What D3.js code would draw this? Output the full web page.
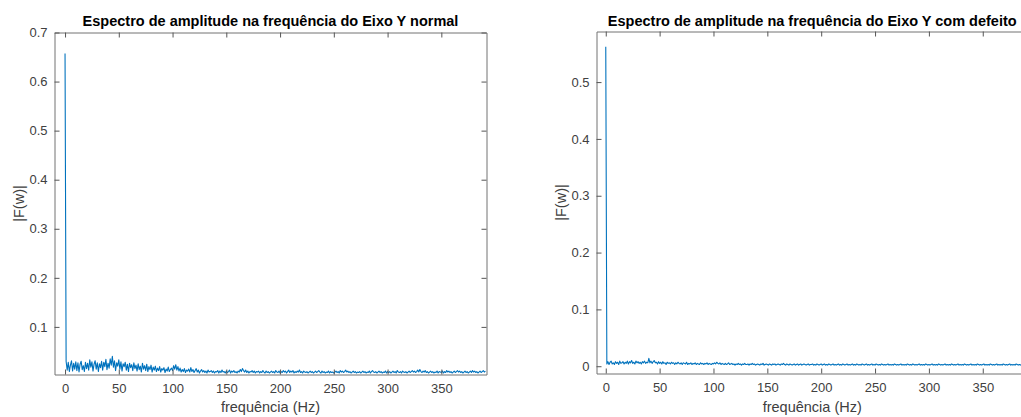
<!DOCTYPE html>
<html>
<head>
<meta charset="utf-8">
<script src="https://cdn.jsdelivr.net/npm/d3@7"></script>
<style>
  body { margin: 0; background: white; }
  svg { display: block; font-family: "Liberation Sans", Arial, sans-serif; }
</style>
</head>
<body>
<div id="container"></div>
<script>
const freqs = d3.range(0, 392);

const xTicks = [0, 50, 100, 150, 200, 250, 300, 350];
const yTicksNormal = [0.1, 0.2, 0.3, 0.4, 0.5, 0.6, 0.7];
const yTicksDefect = [0, 0.1, 0.2, 0.3, 0.4, 0.5];

//Eixo Y normal
const ampNormal = [.657,
  .030,.012,.028,.009,.022,.031,.010,.026,.014,.029,
  .011,.027,.008,.024,.030,.013,.021,.009,.028,.015,
  .026,.012,.033,.018,.029,.010,.024,.031,.014,.027,
  .009,.025,.017,.030,.012,.028,.019,.034,.013,.026,
  .016,.035,.022,.040,.018,.031,.011,.027,.020,.033,
  .014,.029,.010,.025,.019,.028,.012,.024,.009,.026,
  .017,.023,.011,.027,.015,.022,.010,.025,.013,.020,
  .008,.026,.014,.021,.011,.024,.009,.019,.013,.022,
  .008,.018,.012,.020,.009,.016,.011,.019,.008,.015,
  .012,.017,.007,.014,.010,.018,.009,.013,.016,.011,
  .021,.014,.023,.012,.019,.010,.016,.008,.013,.009,
  .015,.007,.012,.010,.014,.008,.017,.009,.013,.007,
  .011,.015,.008,.012,.006,.010,.013,.008,.011,.007,
  .010,.006,.012,.008,.009,.011,.007,.010,.006,.009,
  .008,.011,.006,.010,.007,.012,.008,.009,.006,.010,
  .007,.009,.012,.006,.010,.008,.011,.007,.009,.006,
  .010,.008,.013,.009,.015,.011,.008,.012,.007,.010,
  .006,.009,.008,.011,.007,.010,.006,.009,.008,.010,
  .006,.009,.007,.011,.008,.006,.010,.007,.009,.006,
  .008,.010,.007,.009,.006,.011,.008,.007,.010,.006,
  .009,.007,.011,.008,.010,.006,.009,.012,.007,.010,
  .008,.011,.006,.009,.007,.010,.008,.012,.007,.009,
  .006,.010,.008,.007,.009,.006,.008,.010,.007,.009,
  .006,.008,.010,.007,.009,.011,.008,.006,.010,.007,
  .009,.006,.008,.007,.010,.006,.009,.007,.008,.006,
  .008,.010,.007,.009,.006,.011,.008,.010,.007,.009,
  .012,.008,.010,.007,.009,.006,.008,.010,.007,.009,
  .006,.008,.007,.009,.006,.008,.010,.007,.009,.006,
  .008,.007,.010,.006,.009,.011,.008,.007,.009,.006,
  .008,.010,.007,.009,.006,.008,.007,.010,.006,.009,
  .007,.009,.006,.008,.010,.007,.009,.006,.011,.008,
  .007,.009,.006,.010,.008,.007,.009,.006,.008,.010,
  .007,.009,.011,.008,.010,.007,.009,.012,.008,.013,
  .009,.007,.010,.008,.011,.007,.009,.006,.008,.010,
  .007,.009,.006,.008,.007,.010,.006,.009,.008,.007,
  .010,.006,.009,.007,.011,.008,.010,.007,.009,.006,
  .008,.010,.007,.009,.011,.008,.010,.007,.009,.006,
  .008,.010,.007,.009,.006,.008,.010,.007,.011,.008,
  .010,.007,.009,.006,.008,.010,.007,.009,.011,.008,.010
];

//Eixo Y com defeito
const ampDefect = [.562,
  .004,.008,.003,.007,.009,.004,.006,.003,.008,.005,
  .007,.003,.009,.005,.006,.008,.004,.007,.005,.009,
  .004,.008,.006,.010,.005,.007,.004,.009,.006,.008,
  .005,.007,.004,.008,.006,.009,.005,.007,.006,.014,
  .006,.009,.005,.008,.010,.006,.007,.004,.008,.005,
  .007,.004,.008,.005,.006,.003,.007,.005,.006,.004,
  .007,.005,.006,.003,.006,.004,.007,.005,.004,.006,
  .003,.006,.005,.004,.007,.003,.005,.004,.006,.003,
  .005,.004,.006,.003,.005,.004,.003,.006,.004,.005,
  .003,.005,.004,.006,.003,.005,.004,.003,.005,.004,
  .006,.004,.007,.005,.004,.006,.003,.005,.004,.003,
  .005,.003,.004,.006,.003,.004,.005,.003,.004,.002,
  .004,.003,.005,.003,.004,.002,.004,.003,.005,.003,
  .003,.004,.002,.004,.003,.005,.003,.004,.002,.003,
  .004,.003,.002,.004,.003,.005,.002,.003,.004,.003,
  .002,.004,.003,.002,.004,.003,.004,.002,.003,.004,
  .003,.002,.004,.003,.005,.003,.002,.004,.003,.002,
  .004,.003,.002,.003,.004,.002,.003,.004,.002,.003,
  .004,.002,.003,.004,.003,.002,.003,.004,.002,.003,
  .003,.004,.002,.003,.002,.004,.003,.002,.003,.004,
  .002,.003,.004,.002,.003,.002,.004,.003,.002,.003,
  .004,.002,.003,.002,.003,.004,.002,.003,.002,.004,
  .003,.002,.003,.004,.002,.003,.002,.003,.004,.002,
  .003,.002,.004,.003,.002,.003,.002,.004,.003,.002,
  .003,.004,.002,.003,.002,.003,.004,.002,.003,.002,
  .004,.003,.002,.003,.002,.004,.003,.002,.003,.002,
  .003,.004,.002,.003,.002,.003,.002,.004,.003,.002,
  .003,.002,.003,.004,.002,.003,.002,.003,.002,.004,
  .003,.002,.003,.002,.004,.003,.002,.003,.002,.003,
  .004,.002,.003,.002,.003,.002,.004,.003,.002,.003,
  .002,.003,.004,.002,.003,.002,.003,.002,.004,.003,
  .002,.003,.002,.003,.004,.002,.003,.002,.003,.002,
  .004,.003,.002,.003,.002,.003,.004,.002,.003,.002,
  .003,.002,.004,.003,.002,.003,.002,.003,.004,.002,
  .003,.002,.003,.002,.004,.003,.002,.003,.002,.003,
  .004,.002,.003,.002,.003,.002,.004,.003,.002,.003,
  .002,.003,.004,.002,.003,.002,.003,.002,.004,.003,
  .002,.003,.002,.003,.004,.002,.003,.002,.003,.002,
  .004,.003,.002,.003,.002,.003,.004,.002,.003,.002,.003
];

const width = 1021;
const height = 417;
const axisColor = '#737373';
const textColor = '#404040';
const lineColor = '#0072BD';

const svg = d3.select('#container').append('svg')
  .attr('width', width)
  .attr('height', height)
  .style('background-color', 'white');

//Draw one MATLAB-like panel (box on, ticks inward on all sides)
function drawPanel(p, idx) {
  const x = d3.scaleLinear().domain(p.xDomain).range([p.left, p.right]);
  const y = d3.scaleLinear().domain(p.yDomain).range([p.bottom, p.top]);
  const g = svg.append('g');

  g.append('clipPath').attr('id', 'clip' + idx)
    .append('rect')
    .attr('x', p.left).attr('y', p.top)
    .attr('width', p.right - p.left).attr('height', p.bottom - p.top);

  //spectrum line
  const line = d3.line()
    .x((d, i) => x(freqs[i]))
    .y(d => y(d));
  g.append('path')
    .datum(p.values)
    .attr('clip-path', `url(#clip${idx})`)
    .attr('fill', 'none')
    .attr('stroke', lineColor)
    .attr('stroke-width', 1.1)
    .attr('stroke-linejoin', 'round')
    .attr('d', line);

  //axes: bottom/left with labels, top/right as box with ticks only
  const tk = 5;
  const bottom = g.append('g').attr('transform', `translate(0,${p.bottom})`)
    .call(d3.axisBottom(x).tickValues(xTicks).tickSizeInner(-tk).tickSizeOuter(0).tickPadding(9));
  const top = g.append('g').attr('transform', `translate(0,${p.top})`)
    .call(d3.axisTop(x).tickValues(xTicks).tickSizeInner(-tk).tickSizeOuter(0).tickFormat(''));
  const left = g.append('g').attr('transform', `translate(${p.left},0)`)
    .call(d3.axisLeft(y).tickValues(p.yTicks).tickSizeInner(-tk).tickSizeOuter(0).tickPadding(7)
      .tickFormat(d => d === 0 ? '0' : d3.format('.1f')(d)));
  const right = g.append('g').attr('transform', `translate(${p.right},0)`)
    .call(d3.axisRight(y).tickValues(p.yTicks).tickSizeInner(-tk).tickSizeOuter(0).tickFormat(''));

  [bottom, top, left, right].forEach(a => {
    a.selectAll('.domain').attr('stroke', axisColor);
    a.selectAll('.tick line').attr('stroke', '#555');
    a.selectAll('text')
      .attr('fill', textColor)
      .style('font-size', '13px')
      .style('font-family', '"Liberation Sans", Arial, sans-serif');
  });

  //title
  g.append('text')
    .attr('x', (p.left + p.right) / 2)
    .attr('y', 26)
    .attr('text-anchor', 'middle')
    .style('font-size', '14.5px')
    .style('font-weight', 'bold')
    .attr('fill', '#000')
    .text(p.title);

  //x label
  g.append('text')
    .attr('x', (p.left + p.right) / 2)
    .attr('y', 412)
    .attr('text-anchor', 'middle')
    .style('font-size', '14.5px')
    .attr('fill', textColor)
    .text('frequência (Hz)');

  //y label
  g.append('text')
    .attr('transform', `translate(${p.ylabelX},${(p.top + p.bottom) / 2}) rotate(-90)`)
    .attr('text-anchor', 'middle')
    .style('font-size', '14.5px')
    .attr('fill', textColor)
    .text('|F(w)|');
}

const panels = [
  {
    title: 'Espectro de amplitude na frequência do Eixo Y normal',
    values: ampNormal, yTicks: yTicksNormal,
    xDomain: [-9.8, 392], yDomain: [0.003, 0.7],
    left: 54.5, right: 486.5, top: 32.5, bottom: 374.5, ylabelX: 24, titleX: 270
  },
  {
    title: 'Espectro de amplitude na frequência do Eixo Y com defeito',
    values: ampDefect, yTicks: yTicksDefect,
    xDomain: [-8.6, 392], yDomain: [-0.0128, 0.589],
    left: 596.5, right: 1028, top: 31.5, bottom: 373.5, ylabelX: 566
  }
];

panels.forEach((p, i) => drawPanel(p, i));
</script>
</body>
</html>
